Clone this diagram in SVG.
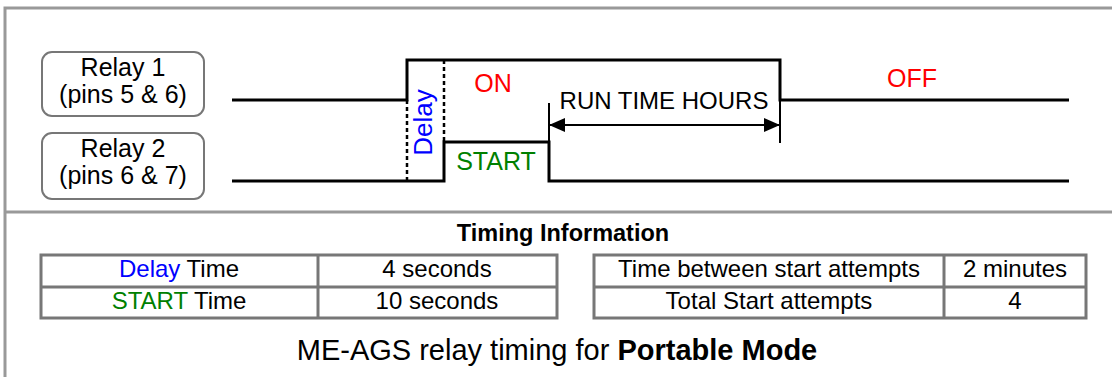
<svg xmlns="http://www.w3.org/2000/svg" width="1112" height="377" viewBox="0 0 1112 377">
  <style>
    text { font-family: "Liberation Sans", Arial, sans-serif; fill: #000; }
    .lbl { font-size: 25px; text-anchor: middle; }
    .cell { font-size: 24px; text-anchor: middle; }
    .frame { fill: none; stroke: #999; stroke-width: 3; }
    .box { fill: #fff; stroke: #777; stroke-width: 2; }
    .wave { fill: none; stroke: #000; stroke-width: 3; stroke-linejoin: miter; }
    .dash { fill: none; stroke: #000; stroke-width: 2.5; stroke-dasharray: 4 3; }
    .tick { fill: none; stroke: #000; stroke-width: 2; }
    .grid { fill: none; stroke: #777; stroke-width: 3; }
    .blue { fill: #0000ff; }
    .red { fill: #ff0000; }
    .green { fill: #008000; }
  </style>
  <defs>
    <marker id="ah" viewBox="0 0 16 14" refX="16" refY="7" markerWidth="16" markerHeight="14" markerUnits="userSpaceOnUse" orient="auto-start-reverse">
      <path d="M0,0 L16,7 L0,14 Z" fill="#000"/>
    </marker>
  </defs>
  <rect width="1112" height="377" fill="#fff"/>
  <g id="frame">
    <path class="frame" d="M5,377 V8 H1112"/>
    <path class="frame" d="M5,212 H1112"/>
  </g>

  <g id="relay1">
    <rect class="box" x="42" y="52" width="162" height="64" rx="10"/>
    <text class="lbl" x="123" y="76">Relay 1</text>
    <text class="lbl" x="123" y="103">(pins 5 &amp; 6)</text>
  </g>
  <g id="relay2">
    <rect class="box" x="42" y="133" width="162" height="66" rx="10"/>
    <text class="lbl" x="123" y="157">Relay 2</text>
    <text class="lbl" x="123" y="184">(pins 6 &amp; 7)</text>
  </g>

  <g id="connectors">
    <path class="wave" d="M232,100 H407 V60 H780 V100 H1069"/>
    <path class="wave" d="M232,181 H444 V142 H549 V181 H1069"/>
    <line class="dash" x1="407" y1="100" x2="407" y2="181"/>
    <line class="dash" x1="444" y1="60" x2="444" y2="142"/>
    <line class="tick" x1="549" y1="103" x2="549" y2="142"/>
    <line class="tick" x1="780" y1="100" x2="780" y2="143"/>
    <line class="tick" x1="549" y1="125" x2="780" y2="125" marker-start="url(#ah)" marker-end="url(#ah)"/>
  </g>

  <g id="wave-labels">
    <text class="lbl red" x="493" y="92">ON</text>
    <text class="lbl red" x="912" y="87">OFF</text>
    <text class="lbl green" x="496" y="170">START</text>
    <text class="lbl blue" transform="translate(432,122.5) rotate(-90)" x="0" y="0" style="font-size:26px">Delay</text>
    <text class="cell" x="664" y="109">RUN TIME HOURS</text>
  </g>

  <g id="timing-info">
    <text x="563" y="241" style="font-size:23.5px;font-weight:bold;text-anchor:middle">Timing Information</text>
  </g>

  <g id="table-left">
    <rect class="grid" x="41" y="255" width="516" height="63"/>
    <line class="grid" x1="41" y1="287" x2="557" y2="287"/>
    <line class="grid" x1="318" y1="255" x2="318" y2="318"/>
    <text class="cell" x="179" y="277"><tspan class="blue">Delay</tspan> Time</text>
    <text class="cell" x="179" y="309"><tspan class="green">START</tspan> Time</text>
    <text class="cell" x="437" y="277">4 seconds</text>
    <text class="cell" x="437" y="309">10 seconds</text>
  </g>

  <g id="table-right">
    <rect class="grid" x="594" y="255" width="492" height="63"/>
    <line class="grid" x1="594" y1="287" x2="1086" y2="287"/>
    <line class="grid" x1="944" y1="255" x2="944" y2="318"/>
    <text class="cell" x="769" y="277">Time between start attempts</text>
    <text class="cell" x="769" y="309">Total Start attempts</text>
    <text class="cell" x="1015" y="277">2 minutes</text>
    <text class="cell" x="1015" y="309">4</text>
  </g>

  <g id="title">
    <text x="557" y="360" style="font-size:29px;text-anchor:middle">ME-AGS relay timing for <tspan style="font-weight:bold">Portable Mode</tspan></text>
  </g>
</svg>
